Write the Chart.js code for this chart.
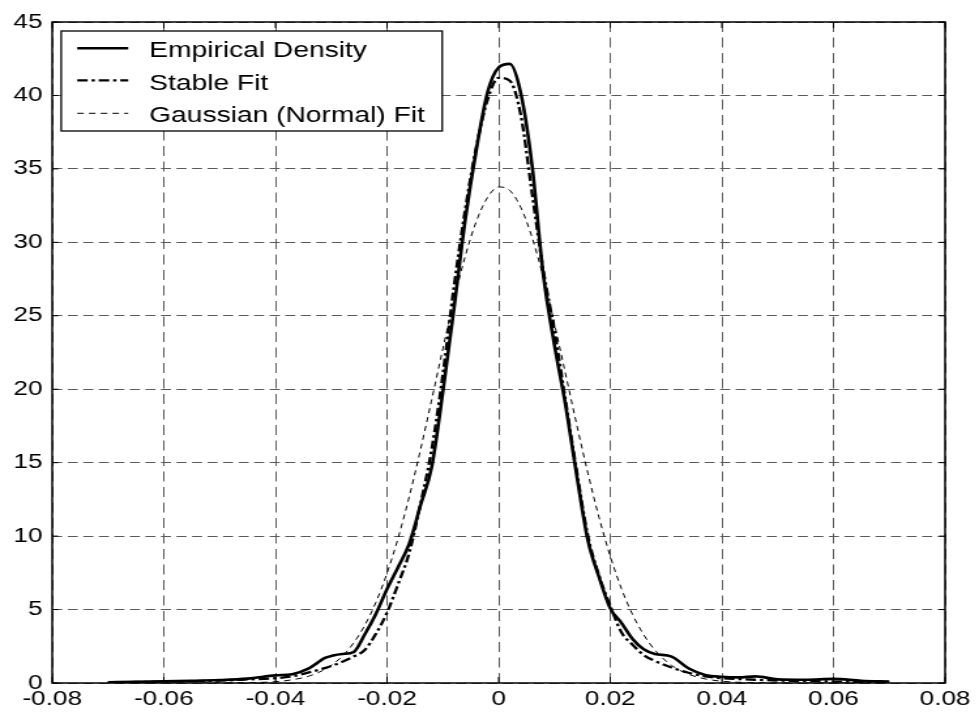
<!DOCTYPE html>
<html>
<head>
<meta charset="utf-8">
<script src="https://cdn.jsdelivr.net/npm/chart.js@4.4.1/dist/chart.umd.min.js"></script>
<style>
  html, body { margin: 0; padding: 0; background: #fff; }
</style>
</head>
<body>
<canvas id="chart" width="750" height="721" style="display:block;width:979px;height:721px"></canvas>
<script>
const xValues = [-0.07, -0.065, -0.06, -0.055, -0.05, -0.045, -0.04, -0.037, -0.034, -0.031,
  -0.028, -0.026, -0.024, -0.022, -0.02, -0.018, -0.016, -0.014, -0.012, -0.01,
  -0.008, -0.006, -0.004, -0.002, 0, 0.002, 0.004, 0.006, 0.008, 0.01,
  0.012, 0.014, 0.016, 0.018, 0.02, 0.022, 0.024, 0.026, 0.028, 0.031,
  0.034, 0.037, 0.04, 0.043, 0.046, 0.05, 0.055, 0.06, 0.065, 0.07];

const empiricalDensity = [0.05, 0.08, 0.12, 0.15, 0.2, 0.3, 0.52, 0.6, 1.0, 1.72,
  1.98, 2.1, 3.3, 4.7, 6.4, 7.9, 9.5, 12.1, 14.7, 19.8,
  25.5, 31.5, 36.3, 40.2, 41.9, 42.15, 40.1, 35.2, 27.8, 23.0,
  18.9, 14.1, 9.7, 7.2, 5.08, 4.1, 3.0, 2.3, 1.98, 1.8,
  1.0, 0.55, 0.42, 0.38, 0.45, 0.25, 0.22, 0.28, 0.15, 0.1];

const stableFit = [0.05, 0.07, 0.09, 0.12, 0.16, 0.24, 0.33, 0.45, 0.72, 1.03,
  1.44, 1.8, 2.25, 3.35, 4.8, 6.75, 8.9, 12.2, 15.9, 21.0,
  27.0, 32.2, 36.5, 39.7, 41.2, 41.0, 38.6, 33.3, 28.1, 24.0,
  19.2, 14.4, 10.0, 7.3, 5.25, 3.45, 2.6, 1.9, 1.5, 1.05,
  0.7, 0.45, 0.33, 0.27, 0.22, 0.17, 0.13, 0.1, 0.08, 0.06];

const gaussianFit = [0, 0, 0, 0, 0.01, 0.02, 0.09, 0.22, 0.47, 0.96,
  1.83, 2.72, 3.92, 5.49, 7.48, 9.89, 12.72, 15.89, 19.28, 22.75,
  26.08, 29.04, 31.43, 33.05, 33.77, 33.53, 32.35, 30.32, 27.62, 24.44,
  21.02, 17.57, 14.27, 11.26, 8.63, 6.43, 4.66, 3.28, 2.24, 1.2,
  0.6, 0.28, 0.12, 0.05, 0.02, 0.01, 0, 0, 0, 0];

const seriesLabels = ['Empirical Density', 'Stable Fit', 'Gaussian (Normal) Fit'];

const xTicks = [-0.08, -0.06, -0.04, -0.02, 0, 0.02, 0.04, 0.06, 0.08];
const xTickLabels = ['-0.08', '-0.06', '-0.04', '-0.02', '0', '0.02', '0.04', '0.06', '0.08'];
const yTicks = [0, 5, 10, 15, 20, 25, 30, 35, 40, 45];
const yTickLabels = ['0', '5', '10', '15', '20', '25', '30', '35', '40', '45'];

// the reference is a horizontally stretched picture, so draw on a narrower
// canvas and let the inline style widen it to 979px
const STRETCH = 979 / 750;
const FONT = '"Liberation Sans", Arial, sans-serif';
const GRID_COLOR = '#5a5a5a';

function toPoints(values) {
  return xValues.map((x, i) => ({ x: x, y: values[i] }));
}

// box round the plot, inward tick marks, and the boxed legend
const frameAndLegend = {
  id: 'frameAndLegend',
  afterDatasetsDraw(chart) {
    const { ctx, chartArea: a, scales } = chart;
    ctx.save();
    ctx.setLineDash([]);
    ctx.strokeStyle = '#000';

    ctx.lineWidth = 1;
    ctx.beginPath();
    xTicks.forEach(v => {
      const px = scales.x.getPixelForValue(v);
      ctx.moveTo(px, a.bottom); ctx.lineTo(px, a.bottom - 6);
      ctx.moveTo(px, a.top); ctx.lineTo(px, a.top + 6);
    });
    yTicks.forEach(v => {
      const py = scales.y.getPixelForValue(v);
      ctx.moveTo(a.left, py); ctx.lineTo(a.left + 6 / STRETCH, py);
      ctx.moveTo(a.right, py); ctx.lineTo(a.right - 6 / STRETCH, py);
    });
    ctx.stroke();

    ctx.lineWidth = 1.5;
    ctx.strokeRect(a.left, a.top, a.right - a.left, a.bottom - a.top);

    // legend
    const lx = a.left + 9 / STRETCH;
    const ly = a.top + 9;
    const lw = 381 / STRETCH;
    const lh = 100;
    ctx.fillStyle = '#fff';
    ctx.fillRect(lx, ly, lw, lh);
    ctx.lineWidth = 1.3;
    ctx.strokeRect(lx, ly, lw, lh);

    const lineY = [17.3, 49.3, 82.3];
    const textY = [26.3, 58.5, 90.7];
    ctx.font = '21.6px ' + FONT;
    ctx.textAlign = 'left';
    ctx.textBaseline = 'alphabetic';
    chart.data.datasets.forEach((ds, i) => {
      ctx.save();
      ctx.strokeStyle = ds.borderColor;
      ctx.lineWidth = ds.borderWidth;
      ctx.setLineDash(ds.borderDash || []);
      ctx.beginPath();
      ctx.moveTo(a.left + 25 / STRETCH, ly + lineY[i]);
      ctx.lineTo(a.left + 76 / STRETCH, ly + lineY[i]);
      ctx.stroke();
      ctx.restore();
      ctx.fillStyle = '#000';
      ctx.fillText(ds.label, a.left + 97 / STRETCH, ly + textY[i]);
    });
    ctx.restore();
  }
};

new Chart(document.getElementById('chart'), {
  type: 'line',
  data: {
    datasets: [
      {
        label: seriesLabels[0],
        data: toPoints(empiricalDensity),
        borderColor: '#000',
        borderWidth: 2.6,
        borderDash: [],
      },
      {
        label: seriesLabels[1],
        data: toPoints(stableFit),
        borderColor: '#000',
        borderWidth: 2.3,
        borderDash: [8, 3, 2.5, 3],
      },
      {
        label: seriesLabels[2],
        data: toPoints(gaussianFit),
        borderColor: '#000',
        borderWidth: 1,
        borderDash: [5, 4],
      },
    ],
  },
  options: {
    responsive: false,
    devicePixelRatio: 1,
    animation: false,
    layout: { padding: { left: 0, right: 26, top: 22, bottom: 0 } },
    elements: {
      point: { radius: 0 },
      line: { cubicInterpolationMode: 'monotone', fill: false },
    },
    plugins: {
      legend: { display: false },
      tooltip: { enabled: false },
    },
    scales: {
      x: {
        type: 'linear',
        min: -0.08,
        max: 0.08,
        afterBuildTicks: s => { s.ticks = xTicks.map(v => ({ value: v })); },
        afterFit: s => { s.height = 38; },
        grid: { color: GRID_COLOR, lineWidth: 1, drawTicks: false },
        border: { display: false, dash: [10, 5.5] },
        ticks: {
          padding: 4,
          color: '#000',
          maxRotation: 0,
          autoSkip: false,
          font: { family: FONT, size: 20 },
          callback: (v, i) => xTickLabels[i],
        },
      },
      y: {
        type: 'linear',
        min: 0,
        max: 45,
        afterBuildTicks: s => { s.ticks = yTicks.map(v => ({ value: v })); },
        afterFit: s => { s.width = 40; },
        grid: { color: GRID_COLOR, lineWidth: 1, drawTicks: false },
        border: { display: false, dash: [7.7, 4.2] },
        ticks: {
          padding: 7.5,
          color: '#000',
          autoSkip: false,
          font: { family: FONT, size: 20 },
          callback: (v, i) => yTickLabels[i],
        },
      },
    },
  },
  plugins: [frameAndLegend],
});
</script>
</body>
</html>
